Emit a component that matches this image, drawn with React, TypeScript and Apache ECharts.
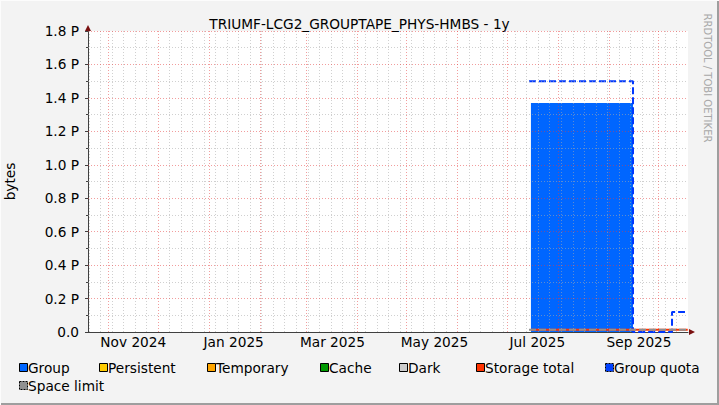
import React, { useEffect, useRef } from 'react';
import * as echarts from 'echarts';

const TITLE = 'TRIUMF-LCG2_GROUPTAPE_PHYS-HMBS - 1y';
const Y_NAME = 'bytes';
const WATERMARK = 'RRDTOOL / TOBI OETIKER';

const X_START = '2024-10-19T12:00:00Z';
const X_END = '2025-10-19T00:00:00Z';

const MONTH_STARTS = ['2024-11-01', '2024-12-01', '2025-01-01', '2025-02-01', '2025-03-01', '2025-04-01', '2025-05-01', '2025-06-01', '2025-07-01', '2025-08-01', '2025-09-01', '2025-10-01'];
const TICK_LABEL_DATES = ['2024-11-16T00:00:00Z', '2025-01-16T00:00:00Z', '2025-03-17T00:00:00Z', '2025-05-18T00:00:00Z', '2025-07-19T12:00:00Z', '2025-09-19T06:00:00Z'];
const TICK_LABELS = ['Nov 2024', 'Jan 2025', 'Mar 2025', 'May 2025', 'Jul 2025', 'Sep 2025'];
const FIRST_WEEK_LINE = '2024-10-20';

const Y_MAX = 1.8;
const Y_STEP = 0.2;

// values in P (petabytes)
const GROUP_DATES = ['2025-07-15T14:00:00Z', '2025-09-15T14:00:00Z'];
const GROUP_VALUES = [1.37, 1.37];
const QUOTA_DATES = ['2025-07-14T10:00:00Z', '2025-09-15T14:00:00Z', '2025-09-15T14:00:00Z', '2025-10-09T07:00:00Z', '2025-10-09T07:00:00Z', '2025-10-17T04:00:00Z'];
const QUOTA_VALUES = [1.5, 1.5, 0, 0, 0.12, 0.12];
const STORAGE_DATES = ['2025-07-15T14:00:00Z', '2025-10-18T20:00:00Z'];
const STORAGE_VALUES = [0.014, 0.014];
const LIMIT_DATES = ['2025-07-14T10:00:00Z', '2025-10-18T20:00:00Z'];
const LIMIT_VALUES = [0.014, 0.014];

const LEGEND_NAMES = ['Group', 'Persistent', 'Temporary', 'Cache', 'Dark', 'Storage total', 'Group quota', 'Space limit'];
const LEGEND_COLORS = ['#0066ff', '#ffcc00', '#ffa500', '#009900', '#cccccc', '#ff3300', '#0040ff', '#909090'];
const LEGEND_DASHED = [false, false, false, false, false, false, true, true];
const LEGEND_X = [19, 99, 207, 320, 399, 476, 605, 19];
const LEGEND_Y = [368, 368, 368, 368, 368, 368, 368, 386];

const FONT = 'DejaVu Sans';
const FS = 13.7;
const ts = (s: string) => new Date(s.length === 10 ? s + 'T00:00:00Z' : s).getTime();
const pairs = (d: string[], v: number[]) => d.map((x, i) => [ts(x), v[i]]);

export default function App() {
  const ref = useRef<HTMLDivElement>(null);
  useEffect(() => {
    document.body.style.margin = '0';
    if (!ref.current) return;
    const chart = echarts.init(ref.current, null, { renderer: 'svg' });

    const xMin = ts(X_START);
    const xMax = ts(X_END);
    const monthTs = MONTH_STARTS.map(ts);
    const labelTs = TICK_LABEL_DATES.map(ts);
    const weekTs: number[] = [];
    for (let t = ts(FIRST_WEEK_LINE); t < xMax; t += 7 * 86400000) {
      if (!monthTs.some((m) => Math.abs(m - t) < 3600000)) weekTs.push(t);
    }
    const minorLines: any[] = weekTs.map((t) => ({ xAxis: t }));
    const majorLines: any[] = monthTs.map((t) => ({ xAxis: t }));
    const nSteps = Math.round(Y_MAX / (Y_STEP / 2));
    for (let i = 1; i <= nSteps; i++) {
      const v = +(i * Y_STEP / 2).toFixed(2);
      (i % 2 === 0 ? majorLines : minorLines).push({ yAxis: v });
    }
    const gridSeries = (name: string, lines: any[], color: string) => ({
      name,
      type: 'line',
      data: [],
      z: 5,
      silent: true,
      markLine: {
        silent: true,
        symbol: ['none', 'none'],
        label: { show: false },
        animation: false,
        lineStyle: { color, type: [1, 2], width: 1 },
        emphasis: { disabled: true },
        data: lines,
      },
    });

    const legendEls: any[] = [];
    LEGEND_NAMES.forEach((name, i) => {
      legendEls.push({
        type: 'rect',
        shape: { x: LEGEND_X[i] + 0.5, y: LEGEND_Y[i] - 4.5, width: 8, height: 8 },
        style: {
          fill: LEGEND_COLORS[i],
          stroke: '#000',
          lineWidth: 1,
          lineDash: LEGEND_DASHED[i] ? [2, 1] : null,
        },
        silent: true,
      });
      legendEls.push({
        type: 'text',
        x: LEGEND_X[i] + 9,
        y: LEGEND_Y[i],
        style: { text: name, fill: '#000', font: `${FS}px "${FONT}"`, verticalAlign: 'middle', align: 'left' },
        silent: true,
      });
    });

    const option: any = {
      animation: false,
      backgroundColor: '#f3f3f3',
      title: {
        text: TITLE,
        left: 'center',
        top: 12,
        textStyle: { fontFamily: FONT, fontSize: FS, fontWeight: 'normal', color: '#000' },
      },
      grid: {
        left: 88, top: 31, width: 600, height: 301,
        show: true, backgroundColor: '#ffffff', borderWidth: 0,
        containLabel: false, outerBoundsMode: 'none',
      },
      xAxis: {
        type: 'value',
        min: xMin,
        max: xMax,
        axisLine: { show: true, lineStyle: { color: '#404040', width: 1 } },
        axisTick: { show: false },
        splitLine: { show: false },
        axisLabel: {
          customValues: labelTs,
          formatter: (v: number) => {
            const i = labelTs.findIndex((t) => Math.abs(t - v) < 3600000);
            return i >= 0 ? TICK_LABELS[i] : '';
          },
          fontFamily: FONT,
          fontSize: FS,
          color: '#000',
          margin: 3,
          hideOverlap: false,
        },
      },
      yAxis: {
        type: 'value',
        min: 0,
        max: Y_MAX,
        interval: Y_STEP,
        name: Y_NAME,
        nameLocation: 'middle',
        nameRotate: 90,
        nameGap: 71,
        nameTextStyle: { fontFamily: FONT, fontSize: FS, color: '#000' },
        axisLine: { show: true, lineStyle: { color: '#404040', width: 1 } },
        axisTick: { show: true, length: 3, lineStyle: { color: '#404040' } },
        minorTick: { show: true, splitNumber: 2, length: 2, lineStyle: { color: '#404040' } },
        splitLine: { show: false },
        axisLabel: {
          formatter: (v: number) => (v === 0 ? '0.0' : v.toFixed(1) + ' P'),
          fontFamily: FONT,
          fontSize: FS,
          color: '#000',
          margin: 9,
        },
      },
      series: [
        {
          name: 'Group',
          type: 'line',
          data: pairs(GROUP_DATES, GROUP_VALUES),
          symbol: 'none',
          lineStyle: { width: 0 },
          areaStyle: { color: '#0066ff', opacity: 1 },
          silent: true,
        },
        {
          name: 'Group quota',
          type: 'line',
          data: pairs(QUOTA_DATES, QUOTA_VALUES),
          symbol: 'none',
          lineStyle: { color: '#0038ff', width: 2, type: [7, 3] },
          silent: true,
        },
        {
          name: 'Storage total',
          type: 'line',
          data: pairs(STORAGE_DATES, STORAGE_VALUES),
          symbol: 'none',
          lineStyle: { color: '#ff3300', width: 2 },
          silent: true,
        },
        {
          name: 'Space limit',
          type: 'line',
          data: pairs(LIMIT_DATES, LIMIT_VALUES),
          symbol: 'none',
          lineStyle: { color: '#909090', width: 2, type: [7, 3] },
          silent: true,
        },
        gridSeries('minor grid', minorLines, 'rgba(170,170,170,0.55)'),
        gridSeries('major grid', majorLines, 'rgba(230,60,60,0.5)'),
      ],
      graphic: [
        { type: 'rect', shape: { x: 717, y: 0, width: 2, height: 405 }, style: { fill: '#9e9e9e' }, silent: true },
        { type: 'rect', shape: { x: 0, y: 403, width: 719, height: 2 }, style: { fill: '#9e9e9e' }, silent: true },
        { type: 'rect', shape: { x: 0, y: 0, width: 719, height: 1 }, style: { fill: '#fcfcfc' }, silent: true },
        { type: 'rect', shape: { x: 0, y: 0, width: 1, height: 405 }, style: { fill: '#fcfcfc' }, silent: true },
        { type: 'polygon', shape: { points: [[85, 31], [91, 31], [88, 25]] }, style: { fill: '#7a1010' }, silent: true },
        { type: 'polygon', shape: { points: [[689, 329], [689, 335], [695, 332]] }, style: { fill: '#7a1010' }, silent: true },
        {
          type: 'text',
          x: 707,
          y: 78,
          rotation: -Math.PI / 2,
          style: { text: WATERMARK, fill: '#a8a8a8', font: `10px "${FONT}"`, align: 'center', verticalAlign: 'middle' },
          silent: true,
        },
        ...legendEls,
      ],
    };
    chart.setOption(option);
    return () => chart.dispose();
  }, []);
  return <div ref={ref} style={{ width: 719, height: 405 }} />;
}
